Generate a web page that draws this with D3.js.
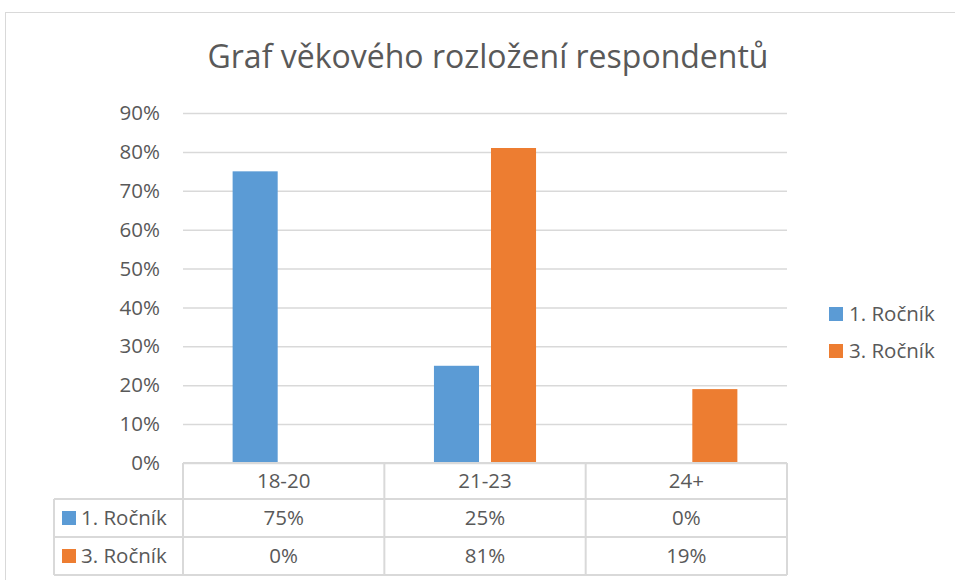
<!DOCTYPE html>
<html><head><meta charset="utf-8">
<script src="https://cdn.jsdelivr.net/npm/d3@7"></script>
<style>body{margin:0;background:#fff}svg{display:block}text{font-family:"Open Sans",sans-serif;fill:#595959}</style>
</head><body><svg id="c" width="955" height="580"></svg>
<script>
const categories = ["18-20","21-23","24+"];
const seriesNames = ["1. Ročník","3. Ročník"];
const series1 = [0.75,0.25,0.00];
const series2 = [0.00,0.81,0.19];
const yTicks = [0,0.1,0.2,0.3,0.4,0.5,0.6,0.7,0.8,0.9];
const colors = ["#5B9BD5","#ED7D31"];
const title = "Graf věkového rozložení respondentů";

(function(){
const svg = d3.select("#c");
const pL=183,pR=787,pT=113,pB=463;
const x = d3.scaleBand().domain(categories).range([pL,pR]).paddingInner(0).paddingOuter(0);
const xs = d3.scaleBand().domain([0,1]).range([0,x.bandwidth()]).paddingInner(0.21).paddingOuter(0.87);
const y = d3.scaleLinear().domain([0,0.9]).range([pB,pT]);
const fmt = d3.format(".0%");
const fs = "20.5px";

svg.append("rect").attr("x",5.5).attr("y",12.5).attr("width",960).attr("height",600).attr("fill","none").attr("stroke","#D9D9D9");

svg.append("text").attr("x",488).attr("y",68).attr("text-anchor","middle").style("font-size","32px").text(title);

const yAxis = d3.axisLeft(y).tickValues(yTicks).tickFormat(fmt).tickSize(-(pR-pL)).tickPadding(23);
const ga = svg.append("g").attr("transform",`translate(${pL},0)`).call(yAxis);
ga.select(".domain").remove();
ga.selectAll(".tick line").attr("stroke","#D9D9D9").attr("stroke-width",1.5);
ga.selectAll(".tick text").style("font-size",fs).attr("fill","#595959").attr("font-family",null);

const data = [series1,series2];
data.forEach((s,si)=>{
  svg.append("g").selectAll("rect").data(categories).join("rect")
    .attr("x",c=>x(c)+xs(si)).attr("width",xs.bandwidth())
    .attr("y",(c,i)=>y(s[i])).attr("height",(c,i)=>pB-y(s[i]))
    .attr("fill",colors[si]);
});

const tLeft=54;
const rows=[pB,pB+36,pB+74,pB+112];
const tg = svg.append("g").attr("stroke","#D9D9D9").attr("stroke-width",2).attr("fill","none");
tg.append("line").attr("x1",pL).attr("x2",pR).attr("y1",rows[0]).attr("y2",rows[0]);
[1,2,3].forEach(r=>tg.append("line").attr("x1",tLeft).attr("x2",pR).attr("y1",rows[r]).attr("y2",rows[r]));
tg.append("line").attr("x1",tLeft).attr("x2",tLeft).attr("y1",rows[1]).attr("y2",rows[3]);
categories.forEach(c=>tg.append("line").attr("x1",x(c)).attr("x2",x(c)).attr("y1",rows[0]).attr("y2",rows[3]));
tg.append("line").attr("x1",pR).attr("x2",pR).attr("y1",rows[0]).attr("y2",rows[3]);

svg.append("g").selectAll("text").data(categories).join("text")
  .attr("x",c=>x(c)+x.bandwidth()/2).attr("y",(rows[0]+rows[1])/2).attr("dy","0.35em")
  .attr("text-anchor","middle").style("font-size",fs).text(c=>c);
data.forEach((s,si)=>{
  const cy=(rows[si+1]+rows[si+2])/2;
  svg.append("g").selectAll("text").data(categories).join("text")
    .attr("x",c=>x(c)+x.bandwidth()/2).attr("y",cy).attr("dy","0.35em")
    .attr("text-anchor","middle").style("font-size",fs).text((c,i)=>fmt(s[i]));
  svg.append("rect").attr("x",62).attr("y",cy-7).attr("width",14).attr("height",14).attr("fill",colors[si]);
  svg.append("text").attr("x",81).attr("y",cy).attr("dy","0.35em").style("font-size",fs).text(seriesNames[si]);
});

seriesNames.forEach((n,i)=>{
  const cy=314+i*37;
  svg.append("rect").attr("x",829).attr("y",cy-7).attr("width",14).attr("height",14).attr("fill",colors[i]);
  svg.append("text").attr("x",849).attr("y",cy).attr("dy","0.35em").style("font-size",fs).text(n);
});
})();
</script></body></html>
